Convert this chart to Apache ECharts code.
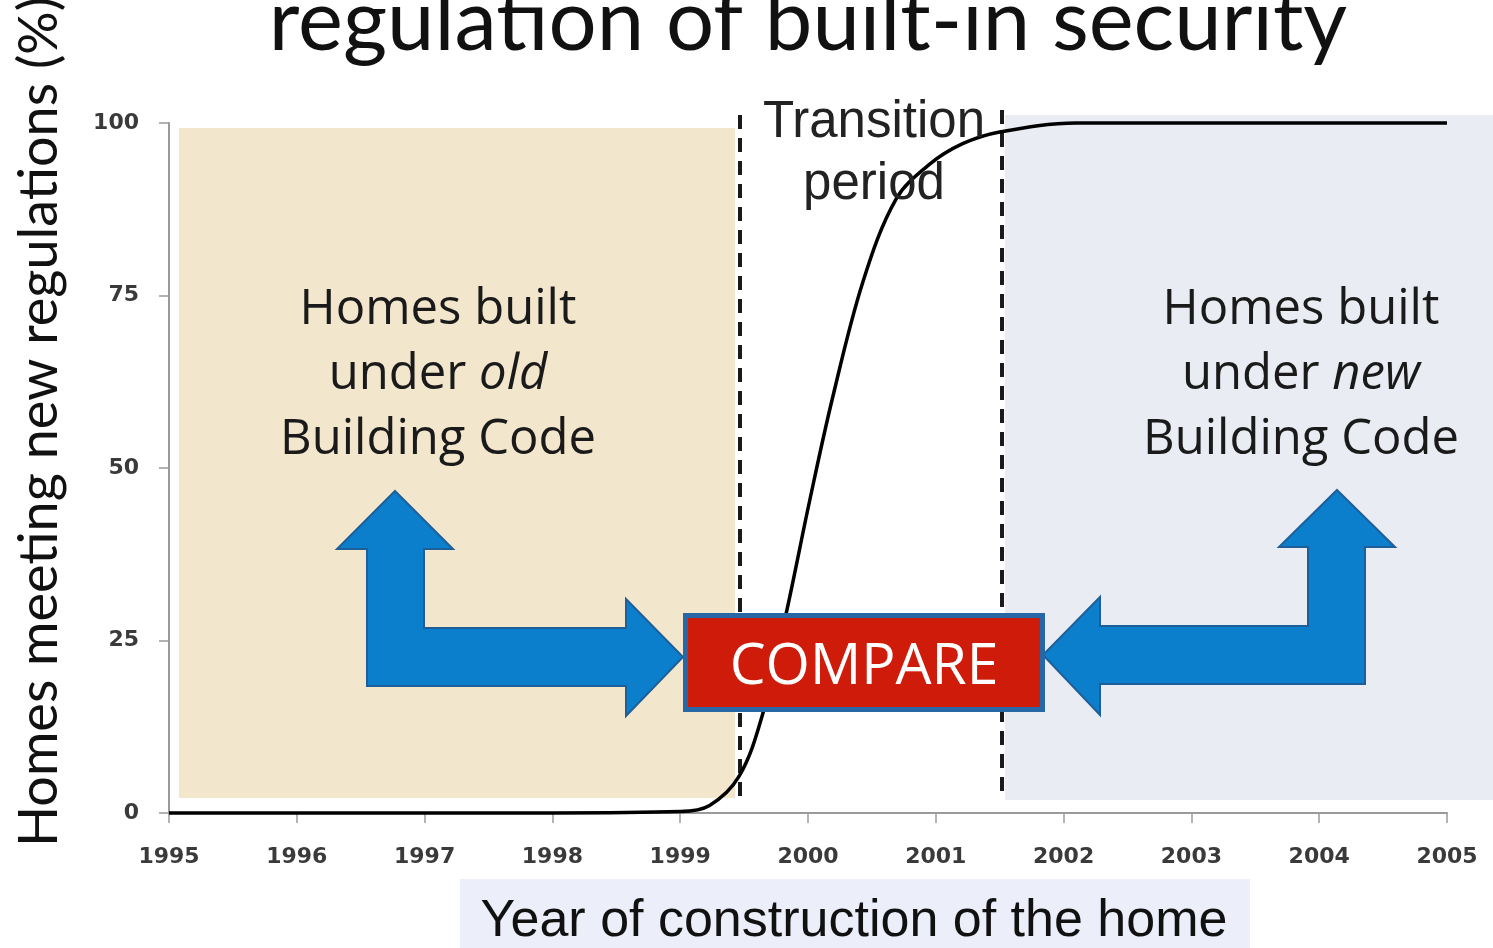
<!DOCTYPE html>
<html>
<head>
<meta charset="utf-8">
<script src="https://cdn.jsdelivr.net/npm/echarts@6/dist/echarts.min.js"></script>
<style>
  html, body { margin: 0; padding: 0; background: #fff; }
  #container { width: 1493px; height: 948px; }
</style>
</head>
<body>
<div id="container"></div>
<script>
// curve: year of construction vs % meeting regulations
var years = [1995, 1998, 1999, 1999.23, 1999.46, 1999.64, 1999.83, 2000.01, 2000.19, 2000.43, 2000.69, 2000.95, 2001.21, 2001.5, 2002.1, 2003, 2005];
var shares = [0, 0, 0.2, 1.1, 5.3, 14, 29, 45, 60, 77, 89, 94, 97, 98.7, 100, 100, 100];

var xTicks = ['1995', '1996', '1997', '1998', '1999', '2000', '2001', '2002', '2003', '2004', '2005'];
var yTicks = [0, 25, 50, 75, 100];

var curve = years.map(function (y, i) { return [y, shares[i]]; });

var myChart = echarts.init(document.getElementById('container'), null, { renderer: 'canvas' });

var option = {
    animation: false,
    backgroundColor: '#ffffff',
    grid: { left: 169, right: 46, top: 123, bottom: 135, containLabel: false },
    xAxis: {
        type: 'value',
        min: 1995,
        max: 2005,
        interval: 1,
        splitLine: { show: false },
        axisLine: { lineStyle: { color: '#9a9a9a', width: 2 } },
        axisTick: { show: true, length: 10, lineStyle: { color: '#9a9a9a', width: 1.5 } },
        axisLabel: {
            margin: 33,
            fontFamily: 'DejaVu Sans',
            fontSize: 22,
            fontWeight: 'bold',
            color: '#3a3a3a',
            formatter: function (v) { return xTicks[Math.round(v - 1995)]; }
        }
    },
    yAxis: {
        type: 'value',
        min: yTicks[0],
        max: yTicks[yTicks.length - 1],
        interval: 25,
        splitLine: { show: false },
        axisLine: { show: true, lineStyle: { color: '#9a9a9a', width: 2 } },
        axisTick: { show: true, length: 10, lineStyle: { color: '#9a9a9a', width: 1.5 } },
        axisLabel: {
            margin: 30,
            fontFamily: 'DejaVu Sans',
            fontSize: 22,
            fontWeight: 'bold',
            color: '#3a3a3a'
        }
    },
    series: [
        {
            type: 'line',
            data: curve,
            smooth: 0.35,
            showSymbol: false,
            clip: false,
            lineStyle: { color: '#000', width: 3.5 },
            z: 3
        }
    ],
    graphic: [
        // background panels behind the old / new code periods
        {
            type: 'rect', z: 0,
            shape: { x: 179, y: 128, width: 556, height: 670 },
            style: { fill: '#f2e6cc' }
        },
        {
            type: 'rect', z: 0,
            shape: { x: 1005, y: 115, width: 488, height: 685 },
            style: { fill: '#e9ecf3' }
        },
        // dashed bounds of the transition period
        {
            type: 'line', z: 1,
            shape: { x1: 740, y1: 115, x2: 740, y2: 798 },
            style: { stroke: '#1a1a1a', lineWidth: 4, lineDash: [14, 9] }
        },
        {
            type: 'line', z: 1,
            shape: { x1: 1002, y1: 110, x2: 1002, y2: 795 },
            style: { stroke: '#1a1a1a', lineWidth: 4, lineDash: [14, 9] }
        },
        {
            type: 'text', x: 808, y: 23, z: 100,
            style: {
                text: 'regulation of built-in security',
                font: '85px Lato', fill: '#111', align: 'center', verticalAlign: 'middle'
            }
        },
        {
            type: 'text', x: 40, y: 422, rotation: Math.PI / 2, z: 100,
            style: {
                text: 'Homes meeting new regulations (%)',
                font: '54px Lato', fill: '#111', align: 'center', verticalAlign: 'middle'
            }
        },
        {
            type: 'rect', z: 90,
            shape: { x: 460, y: 879, width: 790, height: 80 },
            style: { fill: '#eceef9' }
        },
        {
            type: 'text', x: 854, y: 922, z: 100,
            style: {
                text: 'Year of construction of the home',
                font: '52px "Liberation Sans"', fill: '#111', align: 'center', verticalAlign: 'middle'
            }
        },
        {
            type: 'text', x: 874, y: 154, z: 100,
            style: {
                text: 'Transition\nperiod', lineHeight: 62,
                font: '51px "Liberation Sans"', fill: '#222', align: 'center', verticalAlign: 'middle'
            }
        },
        {
            type: 'text', x: 438, y: 375, z: 100,
            style: {
                text: 'Homes built\nunder {i|old}\nBuilding Code', lineHeight: 65,
                font: '49px "Open Sans"', fill: '#1a1a1a', align: 'center', verticalAlign: 'middle',
                rich: { i: { fontFamily: 'Open Sans', fontSize: 49, fontStyle: 'italic', fill: '#1a1a1a', lineHeight: 65 } }
            }
        },
        {
            type: 'text', x: 1301, y: 375, z: 100,
            style: {
                text: 'Homes built\nunder {i|new}\nBuilding Code', lineHeight: 65,
                font: '49px "Open Sans"', fill: '#1a1a1a', align: 'center', verticalAlign: 'middle',
                rich: { i: { fontFamily: 'Open Sans', fontSize: 49, fontStyle: 'italic', fill: '#1a1a1a', lineHeight: 65 } }
            }
        },
        {
            type: 'polygon', z: 95,
            shape: { points: [[395, 491], [453, 549], [424, 549], [424, 628], [626, 628], [626, 599], [683, 657], [626, 716], [626, 686], [367, 686], [367, 549], [337, 549]] },
            style: { fill: '#0b7fcc', stroke: '#1f5f99', lineWidth: 2 }
        },
        {
            type: 'polygon', z: 95,
            shape: { points: [[1337, 490], [1395, 547], [1365, 547], [1365, 684], [1100, 684], [1100, 715], [1043, 655], [1100, 597], [1100, 626], [1308, 626], [1308, 547], [1279, 547]] },
            style: { fill: '#0b7fcc', stroke: '#1f5f99', lineWidth: 2 }
        },
        {
            type: 'rect', z: 96,
            shape: { x: 685.5, y: 615.5, width: 357, height: 94 },
            style: { fill: '#cf1c0a', stroke: '#2867a6', lineWidth: 5 }
        },
        {
            type: 'text', x: 864, y: 668, z: 100,
            style: {
                text: 'COMPARE',
                font: '57px "Open Sans"', fill: '#fff', align: 'center', verticalAlign: 'middle'
            }
        }
    ]
};

myChart.setOption(option);
window.addEventListener('resize', myChart.resize);
</script>
</body>
</html>
